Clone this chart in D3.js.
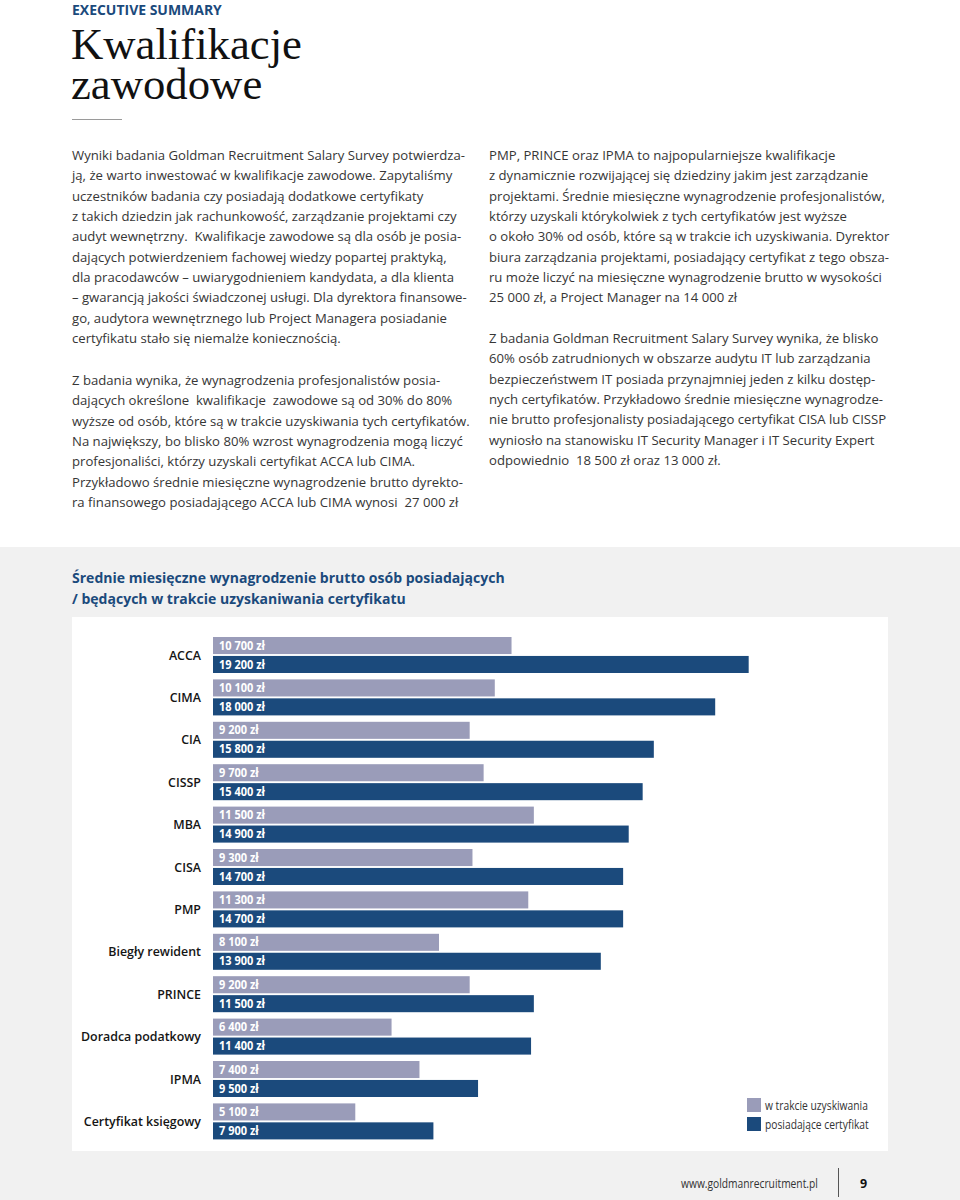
<!DOCTYPE html>
<html><head><meta charset="utf-8">
<script src="https://cdn.jsdelivr.net/npm/d3@7"></script>
<style>
html,body{margin:0;padding:0;background:#fff;}
svg{display:block;}
</style></head>
<body>
<svg id="page" width="960" height="1200"></svg>
<script>
// ---------- DATA ----------
const categories = ["ACCA","CIMA","CIA","CISSP","MBA","CISA","PMP","Biegły rewident","PRINCE","Doradca podatkowy","IPMA","Certyfikat księgowy"];
const inProgress = [10700,10100,9200,9700,11500,9300,11300,8100,9200,6400,7400,5100];
const certified  = [19200,18000,15800,15400,14900,14700,14700,13900,11500,11400,9500,7900];
const seriesNames = ["w trakcie uzyskiwania","posiadające certyfikat"];
const chartTitle = ["Średnie miesięczne wynagrodzenie brutto osób posiadających","/ będących w trakcie uzyskaniwania certyfikatu"];
const sectionLabel = "EXECUTIVE SUMMARY";
const headline = ["Kwalifikacje","zawodowe"];
const leftP1 = [
"Wyniki badania Goldman Recruitment Salary Survey potwierdza-",
"ją, że warto inwestować w kwalifikacje zawodowe. Zapytaliśmy",
"uczestników badania czy posiadają dodatkowe certyfikaty",
"z takich dziedzin jak rachunkowość, zarządzanie projektami czy",
"audyt wewnętrzny.  Kwalifikacje zawodowe są dla osób je posia-",
"dających potwierdzeniem fachowej wiedzy popartej praktyką,",
"dla pracodawców – uwiarygodnieniem kandydata, a dla klienta",
"– gwarancją jakości świadczonej usługi. Dla dyrektora finansowe-",
"go, audytora wewnętrznego lub Project Managera posiadanie",
"certyfikatu stało się niemalże koniecznością."];
const leftP2 = [
"Z badania wynika, że wynagrodzenia profesjonalistów posia-",
"dających określone  kwalifikacje  zawodowe są od 30% do 80%",
"wyższe od osób, które są w trakcie uzyskiwania tych certyfikatów.",
"Na największy, bo blisko 80% wzrost wynagrodzenia mogą liczyć",
"profesjonaliści, którzy uzyskali certyfikat ACCA lub CIMA.",
"Przykładowo średnie miesięczne wynagrodzenie brutto dyrekto-",
"ra finansowego posiadającego ACCA lub CIMA wynosi  27 000 zł"];
const rightP1 = [
"PMP, PRINCE oraz IPMA to najpopularniejsze kwalifikacje",
"z dynamicznie rozwijającej się dziedziny jakim jest zarządzanie",
"projektami. Średnie miesięczne wynagrodzenie profesjonalistów,",
"którzy uzyskali którykolwiek z tych certyfikatów jest wyższe",
"o około 30% od osób, które są w trakcie ich uzyskiwania. Dyrektor",
"biura zarządzania projektami, posiadający certyfikat z tego obsza-",
"ru może liczyć na miesięczne wynagrodzenie brutto w wysokości",
"25 000 zł, a Project Manager na 14 000 zł"];
const rightP2 = [
"Z badania Goldman Recruitment Salary Survey wynika, że blisko",
"60% osób zatrudnionych w obszarze audytu IT lub zarządzania",
"bezpieczeństwem IT posiada przynajmniej jeden z kilku dostęp-",
"nych certyfikatów. Przykładowo średnie miesięczne wynagrodze-",
"nie brutto profesjonalisty posiadającego certyfikat CISA lub CISSP",
"wyniosło na stanowisku IT Security Manager i IT Security Expert",
"odpowiednio  18 500 zł oraz 13 000 zł."];
const footerUrl = "www.goldmanrecruitment.pl";
const pageNumber = "9";

// ---------- STYLE ----------
const BLUE = "#1b4a7c", LAV = "#9a9cb9", TEXT = "#363636";
const SANS = "'Open Sans','Noto Sans',sans-serif";
const svg = d3.select("#page");

function measure(str, size, weight, family){
  const t = svg.append("text").attr("font-size",size).attr("font-weight",weight||400)
    .attr("font-family",family||SANS).style("white-space","pre").text(str);
  const w = t.node().getComputedTextLength(); t.remove(); return w;
}
function addText(g, str, x, y, opts){
  return g.append("text")
    .attr("transform",`translate(${x},${y}) scale(${opts.k||1},1)`)
    .attr("font-size",opts.size).attr("font-weight",opts.weight||400)
    .attr("font-family",opts.family||SANS).attr("fill",opts.fill||TEXT)
    .attr("text-anchor",opts.anchor||"start").style("white-space","pre").text(str);
}

// ---------- BACKGROUND ----------
svg.append("rect").attr("x",0).attr("y",0).attr("width",960).attr("height",1200).attr("fill","#fff");
svg.append("rect").attr("x",0).attr("y",547).attr("width",960).attr("height",653).attr("fill","#f1f1f1");
svg.append("rect").attr("x",72).attr("y",617).attr("width",816).attr("height",534).attr("fill","#fff");

// ---------- HEADER ----------
const hdr = svg.append("g");
const kSec = 150/measure(sectionLabel,13.8,700);
addText(hdr, sectionLabel, 72, 15, {size:13.8, weight:700, fill:BLUE, k:kSec});
const SERIF = "'Liberation Serif','DejaVu Serif',serif";
const kHead = 231/measure(headline[0],45,400,SERIF);
const head = hdr.append("text")
  .attr("transform",`translate(71,59) scale(${kHead},1)`)
  .attr("font-size",45).attr("font-family",SERIF).attr("fill","#111");
head.selectAll("tspan").data(headline).join("tspan")
  .attr("x",0).attr("y",(d,i)=>i*39.5).text(d=>d);
hdr.append("line").attr("x1",72).attr("x2",122).attr("y1",119.5).attr("y2",119.5).attr("stroke","#9a9a9a").attr("stroke-width",1);

// ---------- BODY TEXT ----------
const bodySize = 13.3;
const kBody = 393/measure(leftP1[0], bodySize);
const lh = 20.35;
function para(lines, x, y0){
  const g = svg.append("g");
  lines.forEach((s,i)=>addText(g, s, x, y0+i*lh, {size:bodySize, k:kBody}));
}
para(leftP1, 72, 160);
para(leftP2, 72, 385);
para(rightP1, 489, 160);
para(rightP2, 489, 343);

// ---------- CHART TITLE ----------
const kTitle = 433/measure(chartTitle[0],15,700);
chartTitle.forEach((s,i)=>addText(svg, s, 72, 583+i*21, {size:15, weight:700, fill:BLUE, k:kTitle}));

// ---------- CHART ----------
const x = d3.scaleLinear().domain([0,20000]).range([213,771]);
const y = d3.scaleBand().domain(categories).range([637, 637+categories.length*42.4]).paddingInner(0);
const ySub = d3.scaleBand().domain(seriesNames).range([0,36]).paddingInner(0.1);
const colors = d3.scaleOrdinal().domain(seriesNames).range([LAV, BLUE]);
const fmt = v => d3.format(",")(v).replace(/,/g," ") + " zł";

const rows = categories.map((c,i)=>({cat:c, vals:[
  {s:seriesNames[0], v:inProgress[i]}, {s:seriesNames[1], v:certified[i]}]}));

const kBar = 46/measure("10 700 zł",11.5,700);
const kCat = 120/measure("Doradca podatkowy",13.2,600);

const chart = svg.append("g");
const grp = chart.selectAll("g.row").data(rows).join("g").attr("class","row")
  .attr("transform",d=>`translate(0,${y(d.cat)})`);
grp.each(function(d){
  const g = d3.select(this);
  addText(g, d.cat, 201, ySub.bandwidth()+5.5, {size:13.2, weight:600, fill:"#151515", anchor:"end", k:kCat});
  d.vals.forEach(b=>{
    g.append("rect").attr("x",x(0)).attr("y",ySub(b.s))
      .attr("width",x(b.v)-x(0)).attr("height",ySub.bandwidth()).attr("fill",colors(b.s));
    addText(g, fmt(b.v), x(0)+6, ySub(b.s)+12.6, {size:11.5, weight:700, fill:"#fff", k:kBar});
  });
});

// ---------- LEGEND ----------
const kLeg = 103/measure(seriesNames[0],12);
const leg = svg.append("g");
seriesNames.forEach((s,i)=>{
  leg.append("rect").attr("x",747).attr("y",1098+i*19).attr("width",14).attr("height",14).attr("fill",colors(s));
  addText(leg, s, 765, 1109.5+i*19, {size:12, fill:"#333", k:kLeg});
});

// ---------- FOOTER ----------
const kFoot = 137/measure(footerUrl,12.5);
addText(svg, footerUrl, 681, 1188, {size:12.5, fill:"#333", k:kFoot});
svg.append("line").attr("x1",838.5).attr("x2",838.5).attr("y1",1168).attr("y2",1197).attr("stroke","#555").attr("stroke-width",1);
addText(svg, pageNumber, 860, 1188, {size:12.5, weight:700, fill:"#111"});
</script>
</body></html>
